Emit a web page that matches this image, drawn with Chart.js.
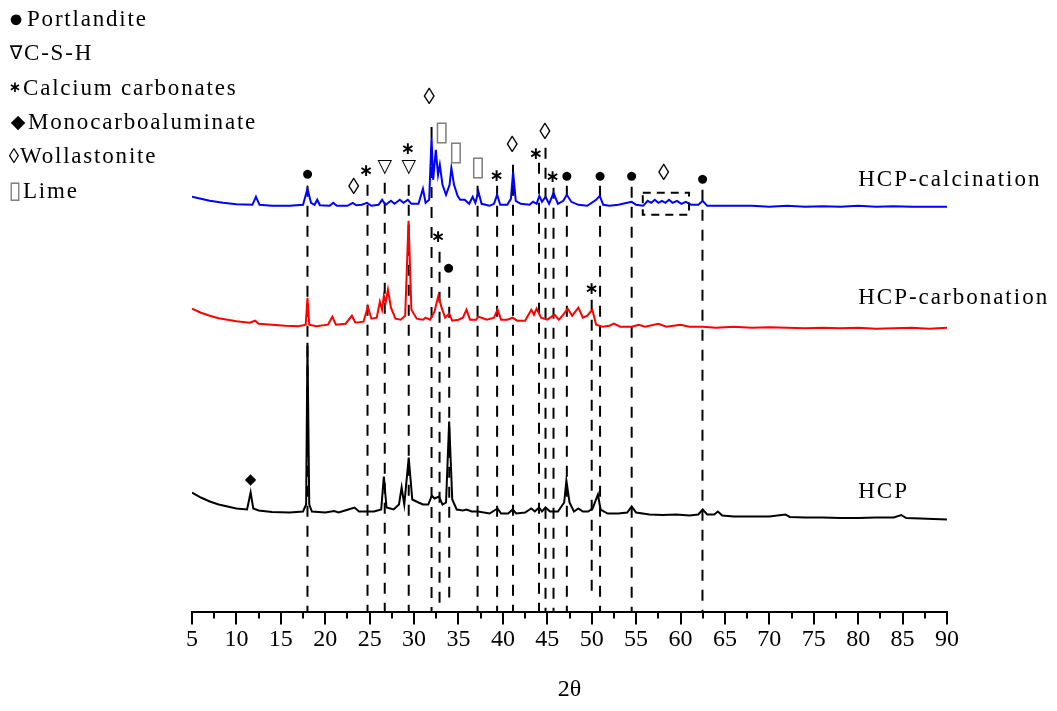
<!DOCTYPE html>
<html>
<head>
<meta charset="utf-8">
<script src="https://cdn.jsdelivr.net/npm/chart.js@4.4.1/dist/chart.umd.min.js"></script>
<style>
html, body { margin: 0; padding: 0; background: #fff; }
</style>
</head>
<body>
<canvas id="xrdChart" width="1057" height="711"></canvas>
<script>
// XRD patterns, 2θ in degrees, intensity in a.u. (patterns already offset)
const calcX = [5, 6, 7, 8.5, 10, 11.8, 12.2, 12.6, 14, 16,
  17.5, 18.0, 18.4, 18.8, 19.1, 19.4, 20.5, 20.9, 21.3, 22.5,
  23.1, 23.5, 24.1, 24.7, 25.2, 26.0, 26.4, 26.8, 27.4, 27.8,
  28.4, 28.8, 29.3, 29.7, 30.5, 31.0, 31.3, 31.7, 31.97, 32.15,
  32.45, 32.7, 32.9, 33.2, 33.6, 34.0, 34.2, 34.5, 34.9, 35.2,
  35.7, 36.2, 36.6, 36.9, 37.25, 37.6, 38.5, 39.0, 39.35, 39.7,
  40.5, 40.9, 41.15, 41.45, 42.0, 43.0, 43.4, 43.8, 44.1, 44.4,
  44.8, 45.2, 45.7, 46.2, 46.8, 47.2, 47.7, 48.5, 49.5, 50.5,
  50.9, 51.3, 52, 53, 54, 54.5, 55, 55.8, 56.3, 56.7,
  57.1, 57.5, 57.9, 58.3, 58.7, 59.1, 59.6, 60.1, 60.6, 61.2,
  62, 62.5, 63, 64.5, 66, 68, 70, 72, 74, 76,
  78, 80, 82, 84, 86, 88, 90];
const calcY = [416, 414, 412, 410, 408.5, 408, 416, 408, 407, 407,
  408, 424, 410, 408, 413, 407.5, 407, 410, 407, 407,
  410, 407.5, 408, 410, 407, 408, 413, 408, 412, 409,
  413, 410, 413, 409, 409, 424, 410, 413, 475, 433,
  463, 438, 448, 428, 418, 428, 445, 428, 417, 413,
  413, 409, 416, 410, 421, 409, 407, 409, 418, 408,
  408, 414, 441, 412, 409, 408, 411, 409, 417, 411,
  416, 409, 420, 409, 412, 418, 411, 408, 407, 413,
  417, 408, 407, 408, 410, 411, 408, 407, 412, 410,
  413, 410, 412, 410, 413, 410, 412, 409, 411, 408,
  408, 412, 407, 407, 407, 407, 406, 407, 406, 406.5,
  406, 407, 406, 406.5, 406, 406, 406];

const carbX = [5, 6, 7, 8, 9, 10, 11.5, 12.1, 12.5, 14,
  15.5, 17, 17.8, 18.0, 18.2, 19, 20.3, 20.8, 21.2, 22.3,
  23.0, 23.4, 24.3, 24.8, 25.2, 25.8, 26.15, 26.4, 26.6, 26.8,
  27.06, 27.4, 27.9, 28.5, 29.0, 29.38, 29.7, 30.3, 31.0, 31.3,
  31.8, 32.3, 32.73, 33.1, 33.5, 33.95, 34.3, 35.0, 35.5, 35.9,
  36.3, 37.0, 37.2, 37.6, 38.2, 39.0, 39.4, 39.8, 40.5, 41.1,
  41.6, 42.5, 43.2, 43.5, 43.8, 44.3, 45.0, 45.8, 46.3, 46.8,
  47.3, 47.8, 48.5, 49.0, 49.5, 50.07, 50.5, 51.2, 52, 52.5,
  53.2, 54.5, 55.3, 56, 57.5, 58.4, 60, 61, 62.5, 64,
  66, 68, 70, 72, 74, 76, 78, 80, 82, 84,
  86, 88, 90];
const carbY = [304, 300, 297, 294.5, 293, 291.5, 290, 292, 289, 288,
  287, 286.5, 288, 315, 288, 286.5, 288, 296, 288, 289,
  297, 290, 291, 306, 294, 295, 311, 303, 317, 310,
  323, 305, 294, 293, 297, 392, 303, 294, 293, 295,
  293, 301, 317, 305, 295, 299, 292, 293, 295, 303,
  293, 293, 296, 295, 293, 295, 303, 293, 293, 295,
  292, 292, 303, 298, 304, 295, 293, 298, 293, 298,
  304, 297, 305, 295, 297, 303, 288, 286, 287, 289,
  286, 286, 288, 286, 289, 286, 288, 286, 286, 285,
  286, 285, 285.5, 285, 284.5, 285, 284.5, 285, 284, 284.5,
  285, 284, 285];

const hcpX = [5, 6, 7, 8, 9, 10, 11.2, 11.6, 11.9, 12.5,
  14, 16, 17.5, 17.85, 18.0, 18.2, 18.5, 20, 21, 21.5,
  22.6, 23.3, 23.8, 24.8, 25.5, 26.3, 26.6, 26.9, 27.7, 28.3,
  28.6, 28.9, 29.4, 29.8, 30.5, 31.0, 31.6, 32.0, 32.3, 32.8,
  33.2, 33.6, 33.95, 34.3, 34.8, 35.5, 35.9, 36.5, 37.2, 38.5,
  39.4, 39.8, 40.6, 41.1, 41.5, 42.5, 43.2, 43.6, 44.07, 44.4,
  44.8, 45.3, 46.2, 46.9, 47.15, 47.5, 48.0, 48.5, 49.0, 49.6,
  50.1, 50.7, 51.0, 51.8, 53, 54.0, 54.5, 55.0, 56.5, 58,
  59.5, 61, 62.0, 62.5, 63.0, 63.8, 64.2, 64.7, 66, 68,
  70, 71.8, 72.3, 74, 76, 78, 80, 82, 84, 84.85,
  85.4, 87, 88.5, 90];
const hcpY = [120, 115, 111, 108, 106, 104, 103, 120, 104, 102,
  100.5, 100, 101, 108, 270, 108, 101, 100, 101.5, 100,
  103, 105, 101, 101, 101, 103, 136, 105, 103, 108,
  125, 108, 155, 113, 110, 108, 108, 117, 114, 116,
  108, 110, 191, 113, 103, 102, 103, 101, 101, 99,
  104, 99, 99, 103, 99, 100, 104, 101, 105, 101,
  105, 101, 101, 110, 132, 110, 101, 104, 101, 101,
  104, 118, 103, 99, 99, 100, 106, 100, 98, 97.5,
  98, 97, 98, 103, 98, 98, 101, 97, 96, 96,
  96, 98, 95.5, 95, 95, 94.5, 94.5, 95, 95, 97.5,
  94.5, 94, 93.5, 93];

// dashed reference lines: 2θ, top and bottom intensity
const refLineX = [18.0, 24.76, 26.7, 29.4, 31.97, 32.87, 33.96, 37.15, 39.35, 41.14, 44.07, 44.8, 45.7, 47.2, 50.0, 50.94, 54.5, 62.47];
const refLineTop = [427, 428, 430, 428, 486, 361, 326, 427, 427, 448, 450, 465, 425, 427, 313, 427, 426, 423];
const refLineBottom = [0, 0, 0, 0, 0, 0, 15, 0, 0, 0, 0, 0, 0, 0, 15, 0, 0, 0];

// phase markers
const markSymbols = ['●', '◊', '∗', '▽', '∗', '▽', '◊', '▯', '▯', '▯', '∗', '◊', '∗', '◊', '∗', '●', '●', '●', '◊', '●', '∗', '●', '∗', '◆'];
const markX = [18.0, 23.2, 24.6, 26.7, 29.3, 29.4, 31.7, 33.1, 34.7, 37.2, 39.3, 41.06, 43.7, 44.74, 45.6, 47.2, 50.94, 54.5, 58.1, 62.47, 32.7, 33.9, 50.0, 11.6];
const markY = [438, 425, 441, 446, 463, 446, 515, 480, 460, 445, 436, 467, 458, 480, 435, 436, 436, 436, 439, 433, 375, 344, 323, 132];

// dashed box around the wollastonite hump
const boxX = [55.75, 60.96];
const boxY = [398, 420];

const seriesNames = ['HCP-calcination', 'HCP-carbonation', 'HCP'];
const seriesLabelX = [80.0, 80.0, 80.0];
const seriesLabelY = [433, 315, 121];

const legendSymbols = ['●', '∇', '∗', '◆', '◊', '▯'];
const legendNames = ['Portlandite', 'C-S-H', 'Calcium carbonates', 'Monocarboaluminate', 'Wollastonite', 'Lime'];

const tickLabels = [5, 10, 15, 20, 25, 30, 35, 40, 45, 50, 55, 60, 65, 70, 75, 80, 85, 90];

const SERIF = '"Liberation Serif", "Times New Roman", serif';
const markFont = {
  '●': '21px ' + SERIF,
  '◊': '23px ' + SERIF,
  '∗': 'bold 17px "DejaVu Sans"',
  '▽': '19px "DejaVu Sans"',
  '▯': '27px "DejaVu Sans"',
  '◆': '15px "DejaVu Sans"'
};
// legend symbol font, symbol centre x, text start x
const legendSymFont = ['25px ' + SERIF, '19px "DejaVu Sans"', 'bold 15px "DejaVu Sans"', '19px "DejaVu Sans"', '21px ' + SERIF, '24px "DejaVu Sans"'];
const legendSymX = [16, 16, 15, 18, 14, 15];
const legendTextX = [27, 24, 23, 28, 20, 23];

const toPts = (xs, ys) => xs.map((v, i) => ({x: v, y: ys[i]}));

const datasets = [
  {data: toPts(calcX, calcY), borderColor: '#0000ff'},
  {data: toPts(carbX, carbY), borderColor: '#ff0000'},
  {data: toPts(hcpX, hcpY), borderColor: '#000000'}
].map(d => Object.assign(d, {borderWidth: 2, pointRadius: 0, tension: 0, fill: false}));

refLineX.forEach((v, i) => {
  datasets.push({
    data: [{x: v, y: refLineTop[i]}, {x: v, y: refLineBottom[i]}],
    borderColor: '#000',
    borderWidth: 2,
    borderDash: [11, 9],
    pointRadius: 0,
    fill: false
  });
});

const xrdDecor = {
  id: 'xrdDecor',
  afterDraw(chart) {
    const {ctx, scales: {x, y}} = chart;
    const axisY = y.getPixelForValue(0);
    ctx.save();

    // major and minor ticks below the axis
    ctx.strokeStyle = '#000';
    ctx.lineWidth = 2;
    ctx.beginPath();
    tickLabels.forEach((v, i) => {
      const px = Math.round(x.getPixelForValue(v));
      ctx.moveTo(px, axisY);
      ctx.lineTo(px, axisY + 12);
      if (i < tickLabels.length - 1) {
        const mx = Math.round(x.getPixelForValue((v + tickLabels[i + 1]) / 2));
        ctx.moveTo(mx, axisY);
        ctx.lineTo(mx, axisY + 6);
      }
    });
    ctx.stroke();

    // dashed box
    ctx.setLineDash([8, 6]);
    ctx.lineWidth = 2;
    const bx0 = x.getPixelForValue(boxX[0]), bx1 = x.getPixelForValue(boxX[1]);
    const by0 = y.getPixelForValue(boxY[1]), by1 = y.getPixelForValue(boxY[0]);
    ctx.strokeRect(bx0, by0, bx1 - bx0, by1 - by0);
    ctx.setLineDash([]);

    // phase markers
    ctx.textAlign = 'center';
    ctx.textBaseline = 'middle';
    markSymbols.forEach((s, i) => {
      ctx.font = markFont[s];
      ctx.fillStyle = s === '▯' ? '#808080' : '#000';
      ctx.fillText(s, x.getPixelForValue(markX[i]), y.getPixelForValue(markY[i]));
    });

    // series names
    ctx.letterSpacing = '2px';
    ctx.textAlign = 'left';
    ctx.fillStyle = '#000';
    ctx.font = '23px ' + SERIF;
    seriesNames.forEach((n, i) => {
      ctx.fillText(n, x.getPixelForValue(seriesLabelX[i]), y.getPixelForValue(seriesLabelY[i]));
    });

    // legend block, top left
    legendSymbols.forEach((s, i) => {
      const ly = 20 + i * 34.3;
      ctx.letterSpacing = '0px';
      ctx.textAlign = 'center';
      ctx.font = legendSymFont[i];
      ctx.fillStyle = s === '▯' ? '#808080' : '#000';
      ctx.fillText(s, legendSymX[i], ly);
      ctx.letterSpacing = '1.8px';
      ctx.textAlign = 'left';
      ctx.font = '23px ' + SERIF;
      ctx.fillStyle = '#000';
      ctx.fillText(legendNames[i], legendTextX[i], ly);
    });
    ctx.restore();
  }
};

new Chart(document.getElementById('xrdChart'), {
  type: 'line',
  data: {datasets: datasets},
  options: {
    responsive: false,
    animation: false,
    devicePixelRatio: 1,
    layout: {padding: {left: 192, right: 110, top: 13, bottom: 0}},
    plugins: {legend: {display: false}, tooltip: {enabled: false}},
    scales: {
      x: {
        type: 'linear',
        min: 5,
        max: 90,
        afterBuildTicks: s => { s.ticks = tickLabels.map(v => ({value: v})); },
        grid: {display: false, drawTicks: false},
        border: {display: true, color: '#000', width: 2},
        ticks: {color: '#000', padding: 13, maxRotation: 0, autoSkip: false, font: {family: SERIF, size: 24}},
        title: {display: true, text: '2θ', color: '#000', font: {family: SERIF, size: 24}, padding: {top: 8, bottom: 7}}
      },
      y: {
        display: false,
        min: 0,
        max: 600
      }
    }
  },
  plugins: [xrdDecor]
});
</script>
</body>
</html>
